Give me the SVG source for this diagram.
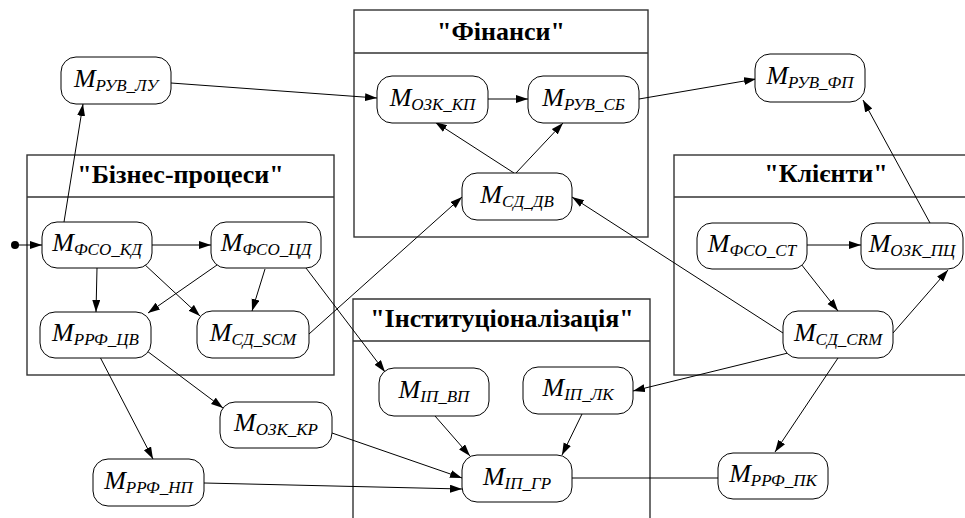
<svg xmlns="http://www.w3.org/2000/svg" width="965" height="518" viewBox="0 0 965 518">
<style>
.fr{fill:none;stroke:#333;stroke-width:1.4}
.nd rect{fill:#fff;stroke:#000;stroke-width:1}
.nd text{font-family:'Liberation Serif','Times New Roman',Times,Tinos,'Noto Serif','DejaVu Serif',FreeSerif,serif;font-style:italic;font-size:26px;text-anchor:middle;fill:#000}
.nd tspan.s{font-size:17px}
.tt{font-family:'Liberation Serif','Times New Roman',Times,Tinos,'Noto Serif','DejaVu Serif',FreeSerif,serif;font-weight:bold;font-size:26px;text-anchor:middle;fill:#000}
.cn line{stroke:#000;stroke-width:1;marker-end:url(#ah)}
.cn line.na{marker-end:none}
</style>
<defs>
<marker id="ah" markerWidth="13" markerHeight="9" refX="12" refY="4" orient="auto" markerUnits="userSpaceOnUse">
<path d="M0,0 L12,4 L0,8 z" fill="#000"/>
</marker>
</defs>
<rect width="965" height="518" fill="#fff"/>

<g id="frame-finansy">
<rect class="fr" x="354" y="10" width="294" height="227"/>
<line class="fr" x1="354" y1="53" x2="648" y2="53"/>
<text class="tt" x="501" y="40">"Фінанси"</text>
</g>
<g id="frame-biznes">
<rect class="fr" x="27" y="155" width="307" height="220"/>
<line class="fr" x1="27" y1="197" x2="334" y2="197"/>
<text class="tt" x="180.5" y="183">"Бізнес-процеси"</text>
</g>
<g id="frame-klienty">
<rect class="fr" x="674" y="155" width="304" height="220"/>
<line class="fr" x1="674" y1="197" x2="978" y2="197"/>
<text class="tt" x="826" y="182">"Клієнти"</text>
</g>
<g id="frame-inst">
<path class="fr" d="M353,520 L353,299 L650,299 L650,520"/>
<line class="fr" x1="353" y1="341" x2="650" y2="341"/>
<text class="tt" x="502" y="327">"Інституціоналізація"</text>
</g>

<g id="connectors" class="cn">
<circle cx="15" cy="245" r="4" fill="#000"/>
<line x1="15" y1="245" x2="42" y2="245"/>
<line x1="64" y1="222" x2="83" y2="104"/>
<line x1="171" y1="83" x2="377" y2="98"/>
<line x1="488" y1="99" x2="528" y2="99"/>
<line x1="514" y1="173" x2="435" y2="122"/>
<line x1="516" y1="173" x2="563" y2="123"/>
<line x1="639" y1="99" x2="756" y2="79"/>
<line x1="930" y1="223" x2="863" y2="100"/>
<line x1="807" y1="245" x2="861" y2="245"/>
<line x1="801" y1="264" x2="838" y2="311"/>
<line x1="893" y1="333" x2="948" y2="270"/>
<line x1="783" y1="333" x2="572" y2="197"/>
<line x1="788" y1="353" x2="633" y2="391"/>
<line x1="838" y1="358" x2="775" y2="452"/>
<line class="na" x1="572" y1="478" x2="718" y2="478"/>
<line x1="152" y1="245" x2="211" y2="245"/>
<line x1="97" y1="268" x2="96" y2="312"/>
<line x1="143" y1="263" x2="200" y2="316"/>
<line x1="217" y1="265" x2="148" y2="313"/>
<line x1="265" y1="269" x2="252" y2="311"/>
<line x1="306" y1="268" x2="385" y2="372"/>
<line x1="309" y1="334" x2="462" y2="197"/>
<line x1="100" y1="357" x2="153" y2="459"/>
<line x1="147" y1="351" x2="223" y2="408"/>
<line x1="332" y1="433" x2="462" y2="478"/>
<line x1="204" y1="483" x2="462" y2="489"/>
<line x1="435" y1="416" x2="470" y2="456"/>
<line x1="582" y1="414" x2="562" y2="455"/>
</g>

<g id="n-ruv-lu" class="nd"><rect x="61" y="57" width="110" height="47" rx="15"/><text x="116" y="87">M<tspan class="s" dy="4">РУВ_ЛУ</tspan></text></g>
<g id="n-ozk-kp" class="nd"><rect x="377" y="76" width="111" height="47" rx="15"/><text x="432.5" y="106">M<tspan class="s" dy="4">ОЗК_КП</tspan></text></g>
<g id="n-ruv-sb" class="nd"><rect x="528" y="76" width="111" height="47" rx="15"/><text x="583.5" y="106">M<tspan class="s" dy="4">РУВ_СБ</tspan></text></g>
<g id="n-sd-dv" class="nd"><rect x="462" y="173" width="110" height="47" rx="15"/><text x="517" y="203">M<tspan class="s" dy="4">СД_ДВ</tspan></text></g>
<g id="n-ruv-fp" class="nd"><rect x="755" y="54" width="110" height="48" rx="15"/><text x="810" y="84">M<tspan class="s" dy="4">РУВ_ФП</tspan></text></g>
<g id="n-fso-st" class="nd"><rect x="697" y="223" width="110" height="46" rx="15"/><text x="752" y="252">M<tspan class="s" dy="4">ФСО_СТ</tspan></text></g>
<g id="n-ozk-pc" class="nd"><rect x="861" y="223" width="102" height="46" rx="15"/><text x="912" y="252">M<tspan class="s" dy="4">ОЗК_ПЦ</tspan></text></g>
<g id="n-fso-kd" class="nd"><rect x="42" y="222" width="110" height="46" rx="15"/><text x="97" y="251">M<tspan class="s" dy="4">ФСО_КД</tspan></text></g>
<g id="n-fso-cd" class="nd"><rect x="211" y="222" width="110" height="46" rx="15"/><text x="266" y="251">M<tspan class="s" dy="4">ФСО_ЦД</tspan></text></g>
<g id="n-rrf-cv" class="nd"><rect x="40" y="312" width="111" height="46" rx="15"/><text x="95.5" y="341">M<tspan class="s" dy="4">РРФ_ЦВ</tspan></text></g>
<g id="n-sd-scm" class="nd"><rect x="197" y="311" width="112" height="47" rx="15"/><text x="253" y="341">M<tspan class="s" dy="4">СД_SCM</tspan></text></g>
<g id="n-ip-vp" class="nd"><rect x="379" y="368" width="110" height="48" rx="15"/><text x="434" y="398">M<tspan class="s" dy="4">ІП_ВП</tspan></text></g>
<g id="n-ip-lk" class="nd"><rect x="523" y="367" width="110" height="47" rx="15"/><text x="578" y="396">M<tspan class="s" dy="4">ІП_ЛК</tspan></text></g>
<g id="n-ip-gr" class="nd"><rect x="462" y="455" width="110" height="47" rx="15"/><text x="517" y="485">M<tspan class="s" dy="4">ІП_ГР</tspan></text></g>
<g id="n-ozk-kr" class="nd"><rect x="220" y="402" width="112" height="46" rx="15"/><text x="276" y="431">M<tspan class="s" dy="4">ОЗК_КР</tspan></text></g>
<g id="n-rrf-np" class="nd"><rect x="93" y="459" width="111" height="47" rx="15"/><text x="148.5" y="489">M<tspan class="s" dy="4">РРФ_НП</tspan></text></g>
<g id="n-sd-crm" class="nd"><rect x="783" y="311" width="110" height="47" rx="15"/><text x="838" y="341">M<tspan class="s" dy="4">СД_CRM</tspan></text></g>
<g id="n-rrf-pk" class="nd"><rect x="718" y="453" width="110" height="46" rx="15"/><text x="773" y="482">M<tspan class="s" dy="4">РРФ_ПК</tspan></text></g>
</svg>
